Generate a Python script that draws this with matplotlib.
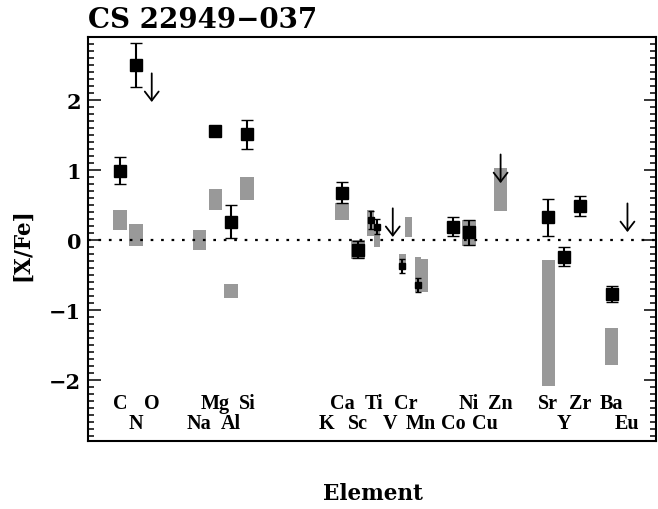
import matplotlib
matplotlib.use("Agg")
import matplotlib.pyplot as plt

# ---- data ----
elements = ['C', 'N', 'O', 'Na', 'Mg', 'Al', 'Si', 'K', 'Ca', 'Sc', 'Ti', 'V',
            'Cr', 'Mn', 'Co', 'Ni', 'Cu', 'Zn', 'Sr', 'Y', 'Zr', 'Ba', 'Eu']
atomic_z = [6, 7, 8, 11, 12, 13, 14, 19, 20, 21, 22, 23,
            24, 25, 27, 28, 29, 30, 38, 39, 40, 56, 63]
elem_pos = [6, 7, 8, 11, 12, 13, 14, 19, 20, 21, 22, 23,
            24, 25, 27, 28, 29, 30, 33, 34, 35, 37, 38]

# observed abundances (large squares)
obs_pos = [6, 7, 12, 13, 14, 20, 21, 27, 28, 33, 34, 35, 37]
obs_val = [0.99, 2.50, 1.56, 0.26, 1.51, 0.67, -0.14, 0.19, 0.11, 0.32, -0.24, 0.48, -0.77]
obs_err = [0.19, 0.32, 0.0, 0.24, 0.21, 0.15, 0.12, 0.13, 0.18, 0.26, 0.14, 0.14, 0.115]

# individual species (small squares): Ti I, Ti II, Cr I, Mn I
sp_pos = [21.8, 22.2, 23.77, 24.8]
sp_val = [0.28, 0.19, -0.38, -0.64]
sp_err = [0.13, 0.11, 0.10, 0.10]

# upper limits: O, V, Zn, Eu
ul_pos = [8, 23.2, 30, 38]
ul_val = [1.97, 0.04, 0.81, 0.11]

# model ranges (grey bars), wide
mod_pos = [6, 7, 11, 12, 13, 14, 20, 21, 28, 30, 33, 37]
mod_lo = [0.14, -0.09, -0.14, 0.43, -0.83, 0.57, 0.29, -0.28, -0.09, 0.41, -2.09, -1.79]
mod_hi = [0.42, 0.22, 0.14, 0.73, -0.63, 0.90, 0.52, 0.00, 0.29, 1.02, -0.29, -1.26]

# model ranges, narrow (species): Ti I, Ti II, Cr I, Cr II, Mn, Mn
modn_pos = [21.8, 22.2, 23.8, 24.2, 24.8, 25.2]
modn_lo = [0.06, -0.11, -0.42, 0.04, -0.74, -0.74]
modn_hi = [0.42, 0.20, -0.20, 0.32, -0.25, -0.28]

title = "CS 22949\u2212037"

# ---- figure ----
plt.rcParams['font.family'] = ['Liberation Serif', 'DejaVu Serif']
plt.rcParams['font.weight'] = 'bold'
plt.rcParams['axes.unicode_minus'] = True
wide_font = ['DejaVu Serif']

fig = plt.figure(figsize=(6.58, 5.10), dpi=100)
ax = fig.add_axes([88.3 / 658, 1 - 441.5 / 510, (656 - 88.3) / 658, (441.5 - 38) / 510])

grey = '#999999'
ax.bar(mod_pos, [h - l for l, h in zip(mod_lo, mod_hi)], bottom=mod_lo,
       width=0.84, color=grey, edgecolor='none', zorder=1)
ax.bar(modn_pos, [h - l for l, h in zip(modn_lo, modn_hi)], bottom=modn_lo,
       width=0.42, color=grey, edgecolor='none', zorder=1)

ax.axhline(0, color='black', linestyle=(0, (1.2, 3.5)), lw=1.6, zorder=2)

ax.errorbar(obs_pos, obs_val, yerr=obs_err, fmt='s', color='black', ms=8.6,
            mec='black', mew=1.0, ecolor='black', elinewidth=1.5, capsize=4.4,
            capthick=1.5, zorder=3)
ax.errorbar(sp_pos, sp_val, yerr=sp_err, fmt='s', color='black', ms=4.0,
            mec='black', mew=1.0, ecolor='black', elinewidth=1.5, capsize=2.4,
            capthick=1.5, zorder=3)

for x, v in zip(ul_pos, ul_val):
    ax.annotate('', xy=(x, v), xytext=(x, v + 0.41),
                arrowprops=dict(arrowstyle='->,head_length=0.65,head_width=0.5',
                                lw=1.3, color='black', shrinkA=0, shrinkB=0,
                                mutation_scale=10), zorder=4)

for name, z, x in zip(elements, atomic_z, elem_pos):
    y = -2.33 if z % 2 == 0 else -2.62
    ax.text(x, y, name, ha='center', va='center', fontsize=14.5, fontweight='bold')

ax.set_xlim(4.0, 39.8)
ax.set_ylim(-2.87, 2.9)
ax.set_yticks([-2, -1, 0, 1, 2])
ax.set_yticks([i / 10 for i in range(-28, 29)], minor=True)
ax.set_xticks([])
ax.tick_params(axis='y', which='both', direction='in', left=True, right=True, pad=5)
ax.tick_params(axis='y', which='major', length=9, width=1.1)
ax.tick_params(axis='y', which='minor', length=4.5, width=1.1)
for lab in ax.get_yticklabels():
    lab.set_fontweight('bold')
    lab.set_fontfamily(wide_font)
    lab.set_fontsize(15)
for s in ax.spines.values():
    s.set_linewidth(1.5)

fig.text(88 / 658, 1 - 21 / 510, title, ha='left', va='center',
         fontsize=20, fontweight='bold', family=wide_font)
fig.text(22 / 658, 1 - 245 / 510, '[X/Fe]', rotation=90, ha='center', va='center',
         fontsize=15.5, fontweight='bold', family=wide_font)
fig.text(373 / 658, 1 - 494 / 510, 'Element', ha='center', va='center',
         fontsize=15.5, fontweight='bold', family=wide_font)

fig.savefig('out.png', dpi=100)
